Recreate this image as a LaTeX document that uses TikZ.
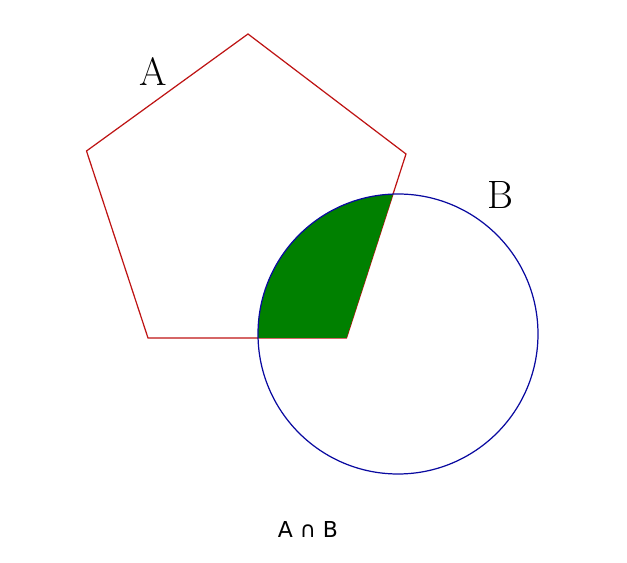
\documentclass[tikz,border=0pt]{standalone}
\usepackage{fontspec}
\newfontfamily\capfont{DejaVu Sans}
\usetikzlibrary{positioning}
\definecolor{setred}{RGB}{190,20,20}
\definecolor{setblue}{RGB}{10,10,160}
\definecolor{setgreen}{RGB}{0,128,0}
\begin{document}
\begin{tikzpicture}[x=0.02cm,y=-0.02cm,
    setline/.style={line width=0.7pt},
    setlabel/.style={font=\fontsize{22.5}{26}\selectfont}]
    \useasboundingbox (0,0) rectangle (627,563);
    % shape A and disc B
    \def\shapeA{(248,34) -- (406,154) -- (346.5,338) -- (148,338) -- (86.5,151) -- cycle}
    \def\shapeB{(398,334) circle[radius=140]}
    \draw[setline, setred] \shapeA;
    \begin{scope}
        \clip \shapeB;
        \fill[setgreen] \shapeA;
    \end{scope}
    \draw[setline, setblue] \shapeB;

    \node[setlabel] (labA) at (153,72) {A};
    \node[setlabel] (labB) at (500,195) {B};
    \node[font=\capfont\fontsize{12.5}{15}\selectfont] (cap) at (308,530) {A ∩ B};
\end{tikzpicture}
\end{document}
